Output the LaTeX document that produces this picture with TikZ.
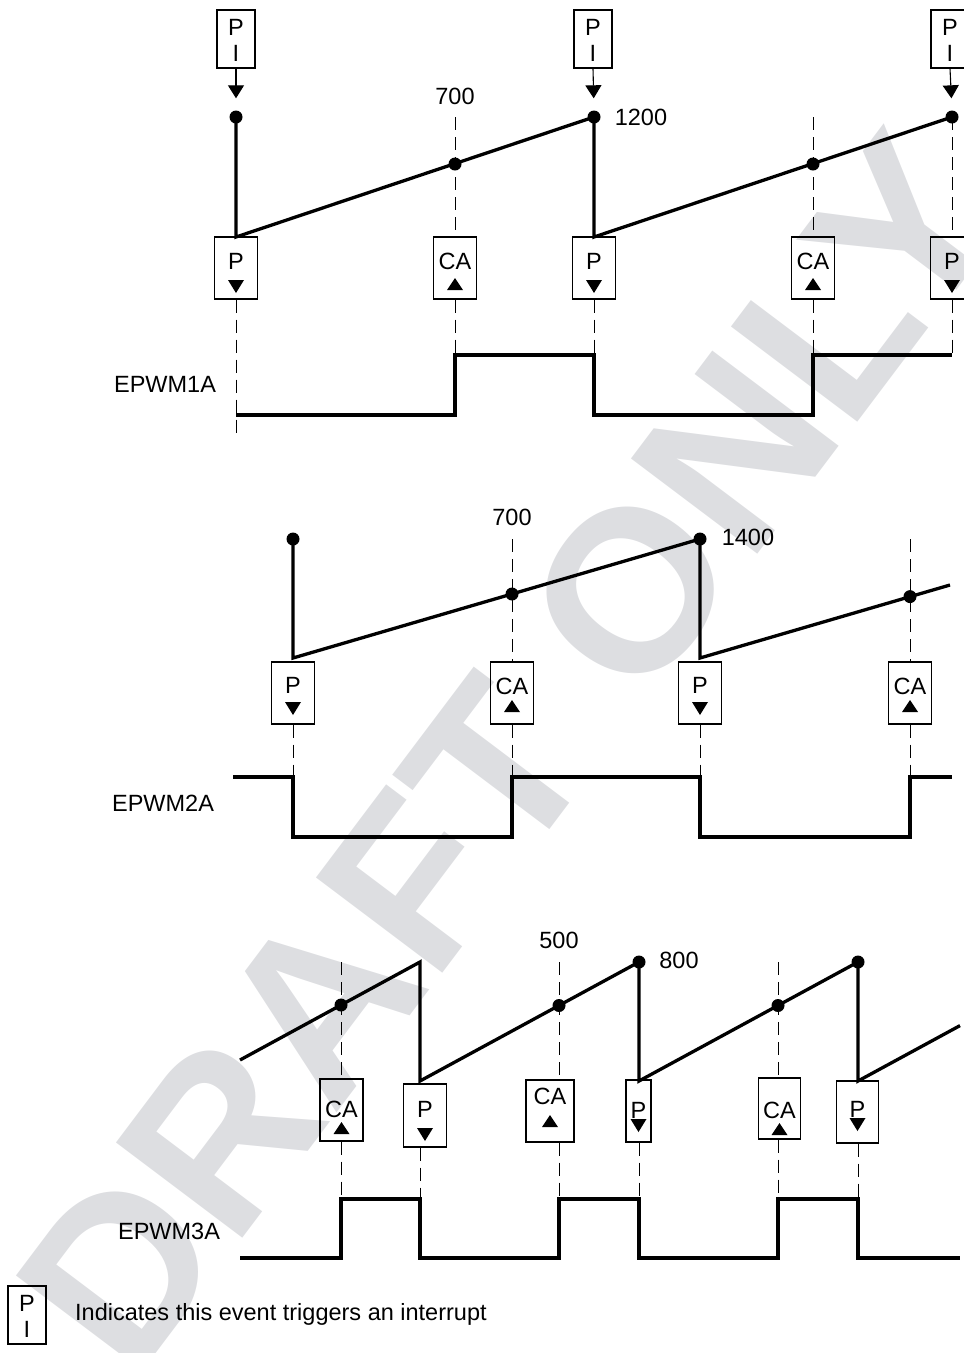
\documentclass[tikz,border=0pt]{standalone}
\usepackage{fontspec}
\setmainfont{Liberation Sans}
\usetikzlibrary{arrows.meta}
\definecolor{wm}{RGB}{221,222,225}
\tikzset{
  wave/.style={line width=3.3pt, line join=miter},
  ebox/.style={draw, line width=1.1pt, rectangle, inner sep=0pt},
  pibox/.style={ebox, minimum width=38pt, minimum height=58pt},
  dsh/.style={line width=1pt, dash pattern=on 13pt off 7pt},
  dot/.style={circle, fill, inner sep=0pt, minimum size=13pt},
  lbl/.style={font=\fontsize{23.5}{27}\selectfont, inner sep=0pt},
  piarrow/.style={line width=1.1pt, -{Triangle[width=16pt,length=13pt]}, shorten >=12pt},
  wmark/.style={rotate=53, text=wm, inner sep=0pt, font=\fontsize{230}{230}\selectfont\bfseries},
}
% #1 name, #2 box cx, #3 box top, #4 w, #5 h, #6 label, #7 label cy, #8 triangle top
\newcommand\evdn[8]{%
  \node[ebox, minimum width=#4pt, minimum height=#5pt] (#1) at (#2,#3+#5/2) {};
  \node[lbl] (#1t) at (#2,#7) {#6};
  \fill (#2-8,#8) -- (#2+8,#8) -- (#2,#8+13) -- cycle;}
\newcommand\evup[8]{%
  \node[ebox, minimum width=#4pt, minimum height=#5pt] (#1) at (#2,#3+#5/2) {};
  \node[lbl] (#1t) at (#2,#7) {#6};
  \fill (#2-8,#8+12) -- (#2+8,#8+12) -- (#2,#8) -- cycle;}
% #1 name, #2 x, #3 y centre, #4 target dot
\newcommand\pimark[4]{%
  \node[pibox] (#1) at (#2,#3) {};
  \node[lbl] (#1p) at (#2,#3-12) {P};
  \node[lbl] (#1i) at (#2,#3+14) {I};
  \ifx\relax#4\relax\else\draw[piarrow] (#1.south) -- (#4.north);\fi}
\begin{document}
\begin{tikzpicture}[x=1pt,y=-1pt]
\useasboundingbox (0,0) rectangle (964,1353);
\node[wmark] (wmk) at (510,752) {DRAFT ONLY};

% ================= Panel 1 =================
\node[dot] (p1d1) at (236,117) {};
\node[dot] (p1d2) at (594,117) {};
\node[dot] (p1d3) at (952,117) {};
\node[dot] (p1c1) at (455,164) {};
\node[dot] (p1c2) at (813,164) {};
\coordinate (p1v1) at (236,237);
\coordinate (p1v2) at (594,237);
\coordinate (p1t2) at (455,117);
\coordinate (p1t4) at (813,117);
\pimark{pi1}{236}{39}{p1d1}
\pimark{pi2}{593}{39}{p1d2}
\pimark{pi3}{950}{39}{p1d3}

\evdn{p1b1}{236}{237}{43}{62}{P}{261}{280}
\evup{p1b2}{455}{237}{43}{62}{CA}{261}{278}
\evdn{p1b3}{594}{237}{43}{62}{P}{261}{280}
\evup{p1b4}{813}{237}{43}{62}{CA}{261}{278}
\evdn{p1b5}{952}{237}{43}{62}{P}{261}{280}

\coordinate (p1w0) at (236,415);
\coordinate (p1w1) at (455,415);
\coordinate (p1w2) at (455,355);
\coordinate (p1w3) at (594,355);
\coordinate (p1w4) at (594,415);
\coordinate (p1w5) at (813,415);
\coordinate (p1w6) at (813,355);
\coordinate (p1w7) at (952,355);
\coordinate (p1end) at (236,437);

\draw[dsh] (p1t2) -- (p1b2.north);
\draw[dsh] (p1t4) -- (p1b4.north);
\draw[dsh] (p1d3.center) -- (p1b5.north);
\draw[dsh] (p1b1.south) -- (p1end);
\draw[dsh] (p1b2.south) -- (p1w2);
\draw[dsh] (p1b3.south) -- (p1w3);
\draw[dsh] (p1b4.south) -- (p1w6);
\draw[dsh] (p1b5.south) -- (p1w7);

\draw[wave] (p1d1.center) -- (p1v1) -- (p1d2.center) -- (p1v2) -- (p1d3.center);
\draw[wave] (p1w0) -- (p1w1) -- (p1w2) -- (p1w3) -- (p1w4) -- (p1w5) -- (p1w6) -- (p1w7);

\node[lbl] (n700a) at (455,96) {700};
\node[lbl] (n1200) at (641,117) {1200};
\node[lbl] (ep1) at (165,384) {EPWM1A};

% ================= Panel 2 =================
\node[dot] (p2d1) at (293,539) {};
\node[dot] (p2d2) at (700,539) {};
\node[dot] (p2c1) at (512,594) {};
\node[dot] (p2c2) at (910,596.6) {};
\coordinate (p2v1) at (293,658);
\coordinate (p2v2) at (700,658);
\coordinate (p2e) at (950,585);
\coordinate (p2t1) at (512,539);
\coordinate (p2t2) at (910,539);

\evdn{p2b1}{293}{662}{43}{62}{P}{685}{702}
\evup{p2b2}{512}{662}{43}{62}{CA}{686}{700}
\evdn{p2b3}{700}{662}{43}{62}{P}{685}{702}
\evup{p2b4}{910}{662}{43}{62}{CA}{686}{700}

\coordinate (p2w0) at (233,777);
\coordinate (p2w1) at (293,777);
\coordinate (p2w2) at (293,837);
\coordinate (p2w3) at (512,837);
\coordinate (p2w4) at (512,777);
\coordinate (p2w5) at (700,777);
\coordinate (p2w6) at (700,837);
\coordinate (p2w7) at (910,837);
\coordinate (p2w8) at (910,777);
\coordinate (p2w9) at (952,777);

\draw[dsh] (p2t1) -- (p2b2.north);
\draw[dsh] (p2t2) -- (p2b4.north);
\draw[dsh] (p2b1.south) -- (p2w1);
\draw[dsh] (p2b2.south) -- (p2w4);
\draw[dsh] (p2b3.south) -- (p2w5);
\draw[dsh] (p2b4.south) -- (p2w8);

\draw[wave] (p2d1.center) -- (p2v1) -- (p2d2.center) -- (p2v2) -- (p2e);
\draw[wave] (p2w0) -- (p2w1) -- (p2w2) -- (p2w3) -- (p2w4) -- (p2w5) -- (p2w6) -- (p2w7) -- (p2w8) -- (p2w9);

\node[lbl] (n700b) at (512,517) {700};
\node[lbl] (n1400) at (748,537) {1400};
\node[lbl] (ep2) at (163,803) {EPWM2A};

% ================= Panel 3 =================
\coordinate (p3s) at (240,1060);
\coordinate (p3k1) at (420,962);
\coordinate (p3v1) at (420,1081);
\node[dot] (p3d1) at (639,962) {};
\coordinate (p3v2) at (639,1081);
\node[dot] (p3d2) at (858,962) {};
\coordinate (p3v3) at (858,1081);
\coordinate (p3e) at (960,1025.6);
\node[dot] (p3c1) at (341,1005) {};
\node[dot] (p3c2) at (559,1005.5) {};
\node[dot] (p3c3) at (778,1005.5) {};
\coordinate (p3t1) at (341,962);
\coordinate (p3t2) at (559,962);
\coordinate (p3t3) at (778,962);

\evup{p3b1}{341.5}{1079}{43}{62}{CA}{1109}{1122}
\evdn{p3b2}{425}{1084}{43}{63}{P}{1109}{1128}
\evup{p3b3}{550}{1080}{48}{62}{CA}{1096}{1115}
\evdn{p3b4}{638.5}{1080}{25}{62}{P}{1110}{1119}
\evup{p3b5}{779.5}{1078}{42}{61}{CA}{1110}{1123}
\evdn{p3b6}{857.5}{1081}{42}{62}{P}{1109}{1118}

\coordinate (p3w0) at (240,1258);
\coordinate (p3w1) at (341,1258);
\coordinate (p3w2) at (341,1199);
\coordinate (p3w3) at (420,1199);
\coordinate (p3w4) at (420,1258);
\coordinate (p3w5) at (559,1258);
\coordinate (p3w6) at (559,1199);
\coordinate (p3w7) at (639,1199);
\coordinate (p3w8) at (639,1258);
\coordinate (p3w9) at (778,1258);
\coordinate (p3w10) at (778,1199);
\coordinate (p3w11) at (858,1199);
\coordinate (p3w12) at (858,1258);
\coordinate (p3w13) at (960,1258);

\draw[dsh] (p3t1) -- (p3t1 |- p3b1.north);
\draw[dsh] (p3t2) -- (p3t2 |- p3b3.north);
\draw[dsh] (p3t3) -- (p3t3 |- p3b5.north);
\draw[dsh] (p3b1.south -| p3w2) -- (p3w2);
\draw[dsh] (p3b2.south -| p3w3) -- (p3w3);
\draw[dsh] (p3b3.south -| p3w6) -- (p3w6);
\draw[dsh] (p3b4.south -| p3w7) -- (p3w7);
\draw[dsh] (p3b5.south -| p3w10) -- (p3w10);
\draw[dsh] (p3b6.south -| p3w11) -- (p3w11);

\draw[wave] (p3s) -- (p3k1) -- (p3v1) -- (p3d1.center) -- (p3v2) -- (p3d2.center) -- (p3v3) -- (p3e);
\draw[wave] (p3w0) -- (p3w1) -- (p3w2) -- (p3w3) -- (p3w4) -- (p3w5) -- (p3w6) -- (p3w7) -- (p3w8) -- (p3w9) -- (p3w10) -- (p3w11) -- (p3w12) -- (p3w13);

\node[lbl] (n500) at (559,940) {500};
\node[lbl] (n800) at (679,960) {800};
\node[lbl] (ep3) at (169,1231) {EPWM3A};

% ================= Legend =================
\pimark{leg}{27}{1315}{}
\node[lbl, anchor=base west] (legtxt) at (75,1320) {Indicates this event triggers an interrupt};
\end{tikzpicture}
\end{document}
